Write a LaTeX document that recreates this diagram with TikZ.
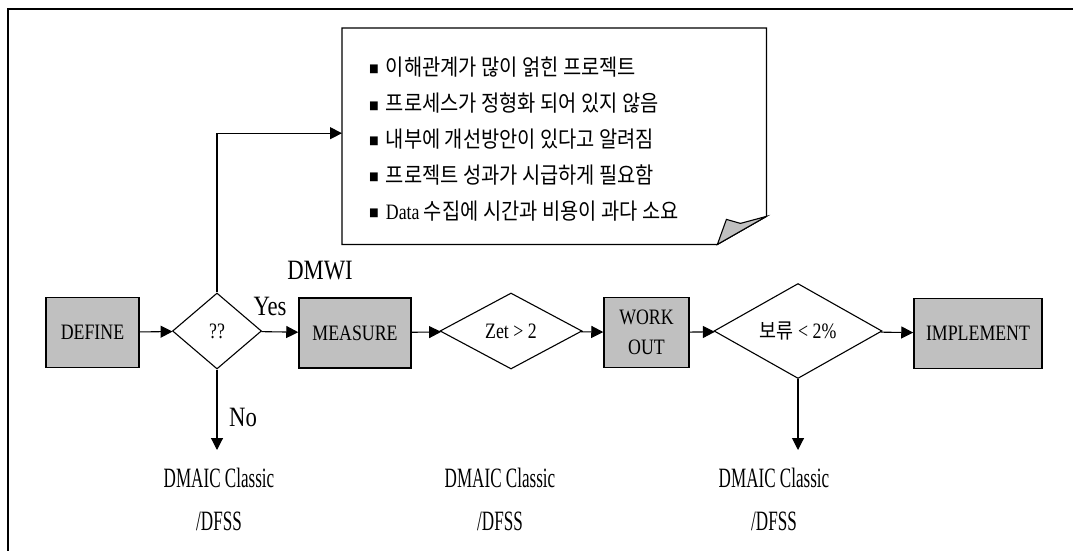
\documentclass[tikz,border=0pt]{standalone}
\usepackage{fontspec}
\setmainfont{Liberation Serif}[FakeStretch=0.81]
\newfontfamily\narrowrm{Liberation Serif}[FakeStretch=0.61]
\newfontfamily\kor{Noto Sans CJK KR}[FakeStretch=0.88]
\usetikzlibrary{shapes.geometric,arrows.meta}
\definecolor{boxgray}{RGB}{192,192,192}
\newcommand{\sqbullet}{\raisebox{1.5pt}{\fontsize{11}{11}\selectfont\kor ■}}

\begin{document}
\begin{tikzpicture}[
  x=1pt, y=-1pt,
  stagebox/.style={
    rectangle,
    fill=boxgray,
    draw,
    line width=1.5pt,
    inner sep=0pt,
    minimum height=70pt,
    align=center,
    font=\fontsize{22}{30}\selectfont
  },
  decide/.style={
    diamond,
    draw,
    line width=1.1pt,
    inner sep=0pt,
    minimum height=76pt,
    font=\fontsize{22}{26}\selectfont
  },
  flow/.style={line width=1.1pt,-{Triangle[length=12pt,width=12pt]}},
  lbl/.style={align=center,font=\fontsize{28}{43}\selectfont},
  outcome/.style={align=center,font=\fontsize{28}{43}\selectfont\narrowrm}
]
\useasboundingbox (0,0) rectangle (1073,551);
\draw[line width=1.6pt] (1073,9) -- (8,9) -- (8,551);

% the note
\node[minimum width=424pt,minimum height=216pt,inner sep=0pt,anchor=north west] (note) at (342,28) {};
\draw[line width=1.3pt,fill=white] (note.north west) -- (note.north east) -- ([yshift=28pt]note.south east)
  -- ([xshift=-49pt]note.south east) -- (note.south west) -- cycle;
\filldraw[fill=boxgray,line width=1.1pt] ([xshift=-49pt]note.south east) -- ([xshift=-40pt,yshift=25pt]note.south east)
  -- ([xshift=-26pt,yshift=21pt]note.south east) -- ([yshift=28pt]note.south east) -- cycle;
\foreach \txt [count=\i] in {이해관계가 많이 얽힌 프로젝트,
                             프로세스가 정형화 되어 있지 않음,
                             내부에 개선방안이 있다고 알려짐,
                             프로젝트 성과가 시급하게 필요함,
                             {\rmfamily\fontsize{22}{24}\selectfont Data} 수집에 시간과 비용이 과다 소요}
  \node[anchor=west,inner sep=0pt,font=\fontsize{22.5}{26}\selectfont\kor] (line\i) at (369,31+36*\i)
    {\sqbullet\hspace{7pt}\txt};

% main flow
\node[stagebox,minimum width=93pt] (define) at (92.5,332.5) {DEFINE};
\node[decide,minimum width=89pt] (q) at (217,331) {??};
\node[stagebox,minimum width=112pt] (measure) at (355,333) {MEASURE};
\node[decide,minimum width=142pt] (zet) at (511,331) {Zet > 2};
\node[stagebox,minimum width=85pt] (workout) at (646.5,332.5) {WORK\\OUT};
\node[decide,minimum width=168pt] (hold) at (798,331) {{\kor\fontsize{21}{26}\selectfont 보류} < 2\%};
\node[stagebox,minimum width=128pt] (implement) at (978,333.5) {IMPLEMENT};

\draw[flow] (define) -- (q);
\draw[flow] (q) -- (measure);
\draw[flow] (measure) -- (zet);
\draw[flow] (zet) -- (workout);
\draw[flow] (workout) -- (hold);
\draw[flow] (hold) -- (implement);
\draw[flow] (q.north) |- ([yshift=3pt]note.west);

\coordinate (qend) at (217,450);
\coordinate (holdend) at (798,450);
\draw[flow] (q.south) -- (qend);
\draw[flow] (hold.south) -- (holdend);

% labels
\node[lbl] (yes) at (270,306) {Yes};
\node[lbl] (dmwi) at (320,271) {DMWI};
\node[lbl] (no) at (243,417) {No};
\node[outcome] (dm1) at (219,499) {DMAIC Classic\\/DFSS};
\node[outcome] (dm2) at (500,499) {DMAIC Classic\\/DFSS};
\node[outcome] (dm3) at (774,499) {DMAIC Classic\\/DFSS};
\end{tikzpicture}
\end{document}
